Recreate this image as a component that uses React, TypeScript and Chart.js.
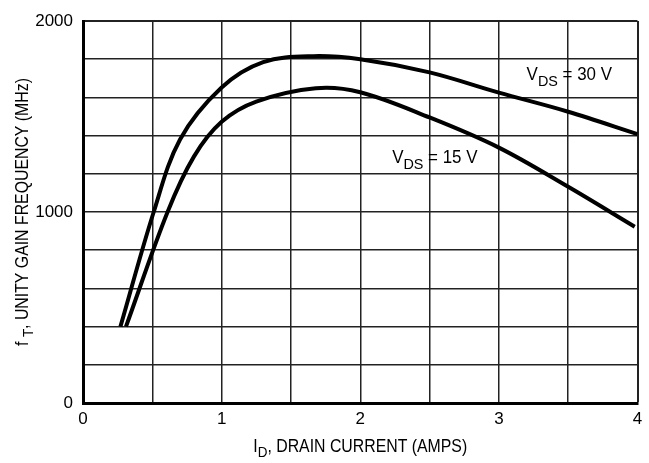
import React, { useEffect, useRef } from "react";
import { Chart, registerables } from "chart.js";

Chart.register(...registerables);

// Drain current (A) and unity gain frequency (MHz)
const id30: number[] = [0.27, 0.51, 0.7, 1.0, 1.3, 1.66, 2.0, 2.5, 3.0, 3.5, 4.0];
const ft30: number[] = [400, 1000, 1380, 1652, 1785, 1816, 1800, 1731, 1625, 1525, 1408];

const id15: number[] = [0.31, 0.61, 0.8, 1.0, 1.25, 1.68, 2.0, 2.5, 3.0, 3.5, 3.98];
const ft15: number[] = [400, 1000, 1290, 1472, 1578, 1648, 1627, 1495, 1337, 1132, 923];

const xTickLabels: number[] = [0, 1, 2, 3, 4];
const yTickLabels: number[] = [0, 1000, 2000];

const label30 = { main: "V", sub: "DS", rest: " = 30 V", x: 3.2, y: 1690 };
const label15 = { main: "V", sub: "DS", rest: " = 15 V", x: 2.23, y: 1255 };

const FONT = "'Liberation Sans', Arial, sans-serif";

function drawSub(ctx: CanvasRenderingContext2D, parts: { main: string; sub: string; rest: string }, x: number, y: number, size: number, align: "left" | "center", squeeze: number) {
  ctx.font = `${size}px ${FONT}`;
  const wMain = ctx.measureText(parts.main).width;
  ctx.font = `${size * 0.85}px ${FONT}`;
  const wSub = ctx.measureText(parts.sub).width;
  ctx.font = `${size}px ${FONT}`;
  const wRest = ctx.measureText(parts.rest).width;
  const total = (wMain + wSub + wRest) * squeeze;
  const sx = align === "center" ? x - total / 2 : x;
  ctx.save();
  ctx.translate(sx, y);
  ctx.scale(squeeze, 1);
  ctx.textBaseline = "alphabetic";
  ctx.textAlign = "left";
  ctx.fillStyle = "#000";
  ctx.font = `${size}px ${FONT}`;
  ctx.fillText(parts.main, 0, 0);
  ctx.font = `${size * 0.85}px ${FONT}`;
  ctx.fillText(parts.sub, wMain, size * 0.3);
  ctx.font = `${size}px ${FONT}`;
  ctx.fillText(parts.rest, wMain + wSub, 0);
  ctx.restore();
}

const textPlugin = {
  id: "texts",
  afterDraw(chart: any) {
    const ctx = chart.ctx as CanvasRenderingContext2D;
    const xs = chart.scales.x;
    const ys = chart.scales.y;
    const ca = chart.chartArea;
    drawSub(ctx, { main: "I", sub: "D", rest: ", DRAIN CURRENT (AMPS)" }, (ca.left + ca.right) / 2, 452, 18, "center", 0.88);
    ctx.save();
    ctx.translate(28, (ca.top + ca.bottom) / 2);
    ctx.rotate(-Math.PI / 2);
    drawSub(ctx, { main: "f ", sub: "T", rest: ", UNITY GAIN FREQUENCY (MHz)" }, 0, 0, 18, "center", 0.88);
    ctx.restore();
    drawSub(ctx, label30, xs.getPixelForValue(label30.x), ys.getPixelForValue(label30.y), 18, "left", 0.94);
    drawSub(ctx, label15, xs.getPixelForValue(label15.x), ys.getPixelForValue(label15.y), 18, "left", 0.94);
  },
};

export default function App() {
  const ref = useRef<HTMLCanvasElement | null>(null);
  useEffect(() => {
    if (!ref.current) return;
    const chart = new Chart(ref.current, {
      type: "line",
      data: {
        datasets: [
          {
            label: "VDS = 30 V",
            data: id30.map((x, i) => ({ x, y: ft30[i] })),
            borderColor: "#000",
            borderWidth: 4,
            pointRadius: 0,
            tension: 0.35,
            fill: false,
          },
          {
            label: "VDS = 15 V",
            data: id15.map((x, i) => ({ x, y: ft15[i] })),
            borderColor: "#000",
            borderWidth: 4,
            pointRadius: 0,
            tension: 0.35,
            fill: false,
          },
        ],
      },
      options: {
        responsive: false,
        animation: false,
        layout: { padding: { top: 21, right: 11.5, left: 0, bottom: 0 } },
        plugins: { legend: { display: false }, tooltip: { enabled: false } },
        scales: {
          x: {
            type: "linear",
            min: 0,
            max: 4,
            afterFit: (s: any) => { s.height = 60; },
            ticks: {
              stepSize: 0.5,
              padding: 6,
              color: "#000",
              font: { family: FONT, size: 17 },
              callback: (v: any) => (xTickLabels.includes(Number(v)) ? String(v) : ""),
            },
            grid: {
              drawTicks: false,
              color: "#222",
              lineWidth: (c: any) => (c.tick && c.tick.value === 4 ? 2 : 1.5),
            },
            border: { display: true, width: 3, color: "#000" },
          },
          y: {
            type: "linear",
            min: 0,
            max: 2000,
            afterFit: (s: any) => { s.width = 83; },
            ticks: {
              stepSize: 200,
              padding: 10,
              color: "#000",
              font: { family: FONT, size: 17 },
              callback: (v: any) => (yTickLabels.includes(Number(v)) ? String(v) : ""),
            },
            grid: {
              drawTicks: false,
              color: "#222",
              lineWidth: (c: any) => (c.tick && c.tick.value === 2000 ? 2 : 1.5),
            },
            border: { display: true, width: 3, color: "#000" },
          },
        },
      },
      plugins: [textPlugin],
    } as any);
    return () => chart.destroy();
  }, []);
  return (
    <div style={{ position: "fixed", left: 0, top: 0, width: 649, height: 463, background: "#fff" }}>
      <canvas ref={ref} width={649} height={463} style={{ display: "block" }} />
    </div>
  );
}
